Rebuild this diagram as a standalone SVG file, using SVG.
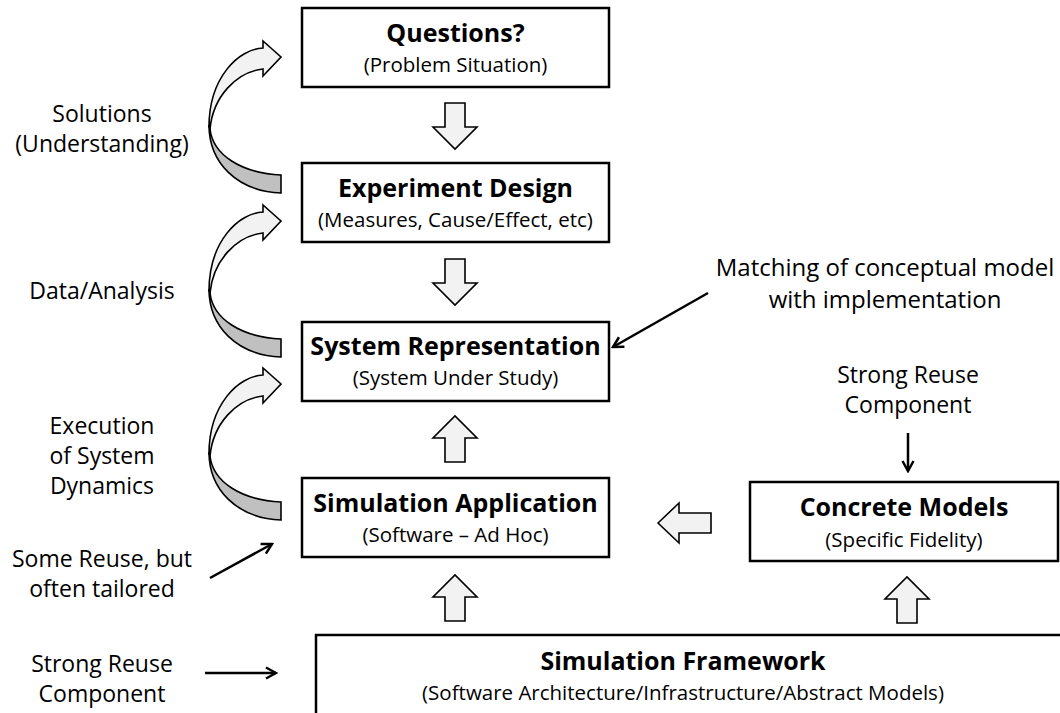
<svg xmlns="http://www.w3.org/2000/svg" xmlns:xlink="http://www.w3.org/1999/xlink" width="1060" height="713" viewBox="0 0 1060 713">
<style>
.box{fill:#fff;stroke:#000;stroke-width:2.5}
.blk{fill:#f2f2f2;stroke:#000;stroke-width:1.6;stroke-linejoin:miter}
.bandL{fill:#f2f2f2;stroke:#000;stroke-width:1.6}
.bandD{fill:#c0c0c0;stroke:#000;stroke-width:1.6}
.ln{fill:none;stroke:#000;stroke-width:2.5;marker-end:url(#ah)}
text{font-family:"Open Sans","Liberation Sans",sans-serif;fill:#000;text-anchor:middle}
.t{font-size:25px;font-weight:bold}
.s{font-size:20.5px}
.lab{font-size:23px}
.big{font-size:24px}
</style>
<defs>
<marker id="ah" viewBox="0 0 14 14" refX="12" refY="7" markerWidth="14" markerHeight="14" markerUnits="userSpaceOnUse" orient="auto">
<path d="M2,1.5 L12,7 L2,12.5" fill="none" stroke="#000" stroke-width="2.5"/>
</marker>
<g id="curve">
<path class="bandD" d="M -72,68 C -72,105 -45,134 0,136 L 0,118 C -40,116 -68,98 -71,72 Z"/>
<path class="bandL" d="M -72,70 C -72,20 -42,-8 -18,-9 L -18,-16 L 0,0 L -18,19 L -18,12 C -45,15 -68,40 -71,72 Z"/>
</g>
<polygon id="down" class="blk" points="-10,-46 10,-46 10,-22 22,-22 0,0 -22,-22 -10,-22"/>
<polygon id="up" class="blk" points="-10,46 10,46 10,22 22,22 0,0 -22,22 -10,22"/>
</defs>

<g id="connectors">
<use xlink:href="#curve" x="281" y="57"/>
<use xlink:href="#curve" x="281" y="221"/>
<use xlink:href="#curve" x="281" y="384"/>
<use xlink:href="#down" x="455" y="149"/>
<use xlink:href="#down" x="455" y="305"/>
<use xlink:href="#up" x="455" y="416"/>
<use xlink:href="#up" x="455" y="575"/>
<use xlink:href="#up" x="907" y="577"/>
<polygon class="blk" points="658,523 679,503 679,513 711,513 711,533 679,533 679,543"/>
<line class="ln" x1="708" y1="293" x2="613" y2="347"/>
<line class="ln" x1="908" y1="433" x2="908" y2="471"/>
<line class="ln" x1="210" y1="578" x2="272" y2="544"/>
<line class="ln" x1="205" y1="673" x2="276" y2="673"/>
</g>

<g id="questions">
<rect class="box" x="302" y="8" width="307" height="79"/>
<text class="t" x="455.5" y="42">Questions?</text>
<text class="s" x="455.5" y="72">(Problem Situation)</text>
</g>
<g id="experiment-design">
<rect class="box" x="302" y="163" width="307" height="79"/>
<text class="t" x="455.5" y="197">Experiment Design</text>
<text class="s" x="455.5" y="227">(Measures, Cause/Effect, etc)</text>
</g>
<g id="system-representation">
<rect class="box" x="302" y="322" width="307" height="79"/>
<text class="t" x="455.5" y="355">System Representation</text>
<text class="s" x="455.5" y="385">(System Under Study)</text>
</g>
<g id="simulation-application">
<rect class="box" x="302" y="478" width="307" height="79"/>
<text class="t" x="455.5" y="512">Simulation Application</text>
<text class="s" x="455.5" y="542">(Software – Ad Hoc)</text>
</g>
<g id="concrete-models">
<rect class="box" x="750" y="482" width="308" height="79"/>
<text class="t" x="904" y="516">Concrete Models</text>
<text class="s" x="904" y="547">(Specific Fidelity)</text>
</g>
<g id="simulation-framework">
<rect class="box" x="316" y="635" width="760" height="90"/>
<text class="t" x="683" y="670">Simulation Framework</text>
<text class="s" x="683" y="700">(Software Architecture/Infrastructure/Abstract Models)</text>
</g>

<g id="labels">
<text class="lab" x="102" y="122">Solutions</text>
<text class="lab" x="102" y="152">(Understanding)</text>
<text class="lab" x="102" y="299">Data/Analysis</text>
<text class="lab" x="102" y="434">Execution</text>
<text class="lab" x="102" y="464">of System</text>
<text class="lab" x="102" y="494">Dynamics</text>
<text class="lab" x="102" y="567">Some Reuse, but</text>
<text class="lab" x="102" y="597">often tailored</text>
<text class="lab" x="102" y="672">Strong Reuse</text>
<text class="lab" x="102" y="702">Component</text>
<text class="big" x="885" y="276">Matching of conceptual model</text>
<text class="big" x="885" y="308">with implementation</text>
<text class="lab" x="908" y="383">Strong Reuse</text>
<text class="lab" x="908" y="413">Component</text>
</g>
</svg>
